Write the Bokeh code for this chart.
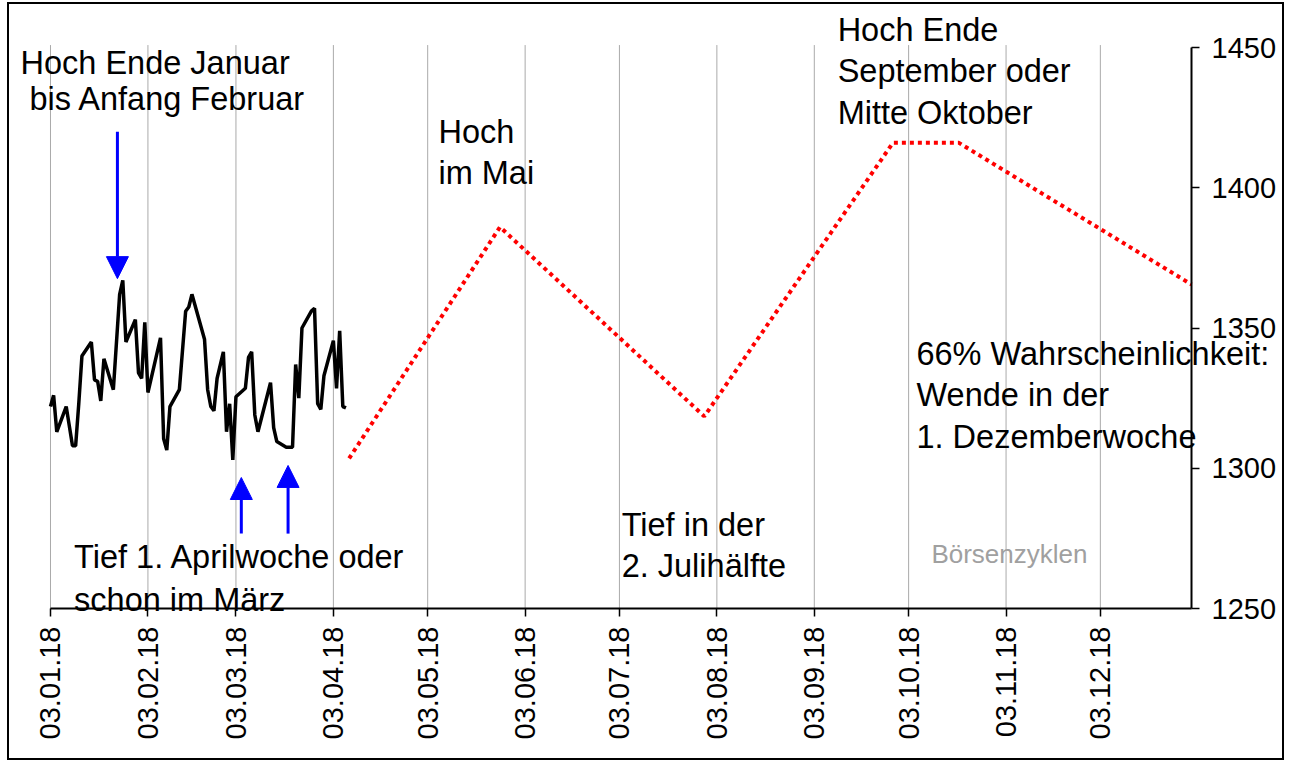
import math
import pandas as pd
from bokeh.plotting import figure
from bokeh.models import (Range1d, FixedTicker, Label, Arrow, NormalHead,
                          DatetimeTickFormatter)
from bokeh.embed import file_html
from bokeh.resources import INLINE

# ---------------- data ----------------
black_dates = [
    "2018-01-03", "2018-01-04", "2018-01-05", "2018-01-08", "2018-01-10", "2018-01-11",
    "2018-01-12", "2018-01-13", "2018-01-16", "2018-01-17", "2018-01-18", "2018-01-19",
    "2018-01-20", "2018-01-23", "2018-01-25", "2018-01-26", "2018-01-27", "2018-01-30",
    "2018-01-31", "2018-02-01", "2018-02-02", "2018-02-03", "2018-02-07", "2018-02-08",
    "2018-02-09", "2018-02-10", "2018-02-13", "2018-02-15", "2018-02-16", "2018-02-17",
    "2018-02-21", "2018-02-22", "2018-02-23", "2018-02-24", "2018-02-25", "2018-02-27",
    "2018-02-28", "2018-03-01", "2018-03-02", "2018-03-03", "2018-03-06", "2018-03-07",
    "2018-03-08", "2018-03-09", "2018-03-10", "2018-03-14", "2018-03-15", "2018-03-16",
    "2018-03-19", "2018-03-21", "2018-03-22", "2018-03-23", "2018-03-24", "2018-03-27",
    "2018-03-28", "2018-03-29", "2018-03-30", "2018-03-31", "2018-04-03", "2018-04-04",
    "2018-04-05", "2018-04-06", "2018-04-07",
]
black_values = [
    1322, 1326, 1313, 1322, 1308, 1308,
    1323, 1340, 1345, 1331.5, 1331, 1324,
    1339, 1328, 1362, 1367, 1345, 1353,
    1334, 1332, 1352, 1327, 1346.5, 1310.5,
    1306.5, 1322, 1328, 1356, 1357.5, 1362,
    1346, 1328, 1322, 1320.5, 1332, 1341.5,
    1313, 1323, 1303, 1325.5, 1328.5, 1339.5,
    1341.5, 1319, 1313, 1330.5, 1314.5, 1309.5,
    1307.5, 1307.5, 1337, 1325, 1350, 1356,
    1357, 1323, 1321, 1333, 1345.5, 1328.5,
    1349, 1322, 1321.5,
]

forecast_dates = ["2018-04-08", "2018-05-26", "2018-07-30", "2018-09-28", "2018-10-19", "2019-01-01"]
forecast_values = [1303.5, 1386, 1318.5, 1416, 1416, 1365.5]

tick_dates = ["2018-01-03", "2018-02-03", "2018-03-03", "2018-04-03", "2018-05-03", "2018-06-03",
              "2018-07-03", "2018-08-03", "2018-09-03", "2018-10-03", "2018-11-03", "2018-12-03"]
tick_labels = ["03.01.18", "03.02.18", "03.03.18", "03.04.18", "03.05.18", "03.06.18",
               "03.07.18", "03.08.18", "03.09.18", "03.10.18", "03.11.18", "03.12.18"]
y_ticks = [1250, 1300, 1350, 1400, 1450]

axis_x_start, axis_x_end = "2018-01-03", "2019-01-01"
axis_y_start, axis_y_end = 1250, 1450


def ms(d):
    return pd.Timestamp(d).value / 1e6


DAY = 86400000.0
FONT = "Liberation Sans"

# extra room around the axes (in data units) so that texts outside the axes are not clipped
x_lo = ms(axis_x_start) - 13.04 * DAY
x_hi = ms(axis_x_end) + 30.22 * DAY
y_lo = 1195.10
y_hi = 1465.33

p = figure(width=1277, height=758, output_backend="svg", toolbar_location=None,
           x_axis_type="datetime", y_axis_location="right",
           x_range=Range1d(x_lo, x_hi), y_range=Range1d(y_lo, y_hi),
           min_border=0, min_border_left=0, min_border_right=0,
           min_border_top=0, min_border_bottom=0,
           styles={"border": "2px solid #000000", "margin-left": "7px", "margin-top": "2px"})
p.outline_line_color = None
p.background_fill_color = "white"
p.border_fill_color = "white"
p.xgrid.visible = False
p.ygrid.visible = False

tick_ms = [ms(d) for d in tick_dates]

# x axis, fixed at the 1250 level
xa = p.xaxis[0]
xa.fixed_location = axis_y_start
xa.bounds = (ms(axis_x_start), ms(axis_x_end))
xa.ticker = FixedTicker(ticks=tick_ms)
xa.formatter = DatetimeTickFormatter(days="%d.%m.%y", months="%d.%m.%y", years="%d.%m.%y")
xa.major_label_overrides = {t: l for t, l in zip(tick_ms, tick_labels)}
xa.major_label_orientation = math.pi / 2
xa.major_label_text_font = FONT
xa.major_label_text_font_size = "29px"
xa.major_label_text_color = "black"
xa.major_label_standoff = 10
xa.axis_line_color = "black"
xa.axis_line_width = 2
xa.major_tick_line_color = "black"
xa.major_tick_line_width = 1.5
xa.major_tick_out = 8
xa.major_tick_in = 0
xa.minor_tick_line_color = None

# y axis on the right, fixed at the end of the date range
ya = p.yaxis[0]
ya.fixed_location = ms(axis_x_end)
ya.bounds = (axis_y_start, axis_y_end)
ya.ticker = FixedTicker(ticks=y_ticks)
ya.major_label_text_font = FONT
ya.major_label_text_font_size = "29px"
ya.major_label_text_color = "black"
ya.major_label_standoff = 12
ya.axis_line_color = "black"
ya.axis_line_width = 2
ya.major_tick_line_color = "black"
ya.major_tick_line_width = 1.5
ya.major_tick_out = 8
ya.major_tick_in = 0
ya.minor_tick_line_color = None

# vertical dotted grid lines at the month ticks
p.segment(x0=tick_ms, y0=[axis_y_start] * len(tick_ms), x1=tick_ms,
          y1=[axis_y_end + 0.7] * len(tick_ms),
          line_color="#555555", line_width=1, line_dash="1 1")

# series
p.line(x=[ms(d) for d in forecast_dates], y=forecast_values,
       line_color="#ff0000", line_width=4, line_dash="4 4")
p.line(x=[ms(d) for d in black_dates], y=black_values,
       line_color="black", line_width=3.5)

# annotations
annotations = [
    ("Hoch Ende Januar", "2017-12-24 11:00", 1444.3),
    ("bis Anfang Februar", "2017-12-27 08:00", 1431.8),
    ("Hoch", "2018-05-06 10:00", 1420.0),
    ("im Mai", "2018-05-06 10:00", 1405.1),
    ("Hoch Ende", "2018-09-10 10:00", 1456.1),
    ("September oder", "2018-09-10 10:00", 1441.5),
    ("Mitte Oktober", "2018-09-10 10:00", 1426.5),
    ("66% Wahrscheinlichkeit:", "2018-10-05 12:00", 1340.9),
    ("Wende in der", "2018-10-05 12:00", 1326.0),
    ("1. Dezemberwoche", "2018-10-05 12:00", 1311.3),
    ("Tief in der", "2018-07-03 17:00", 1279.8),
    ("2. Julihälfte", "2018-07-03 17:00", 1265.0),
    ("Tief 1. Aprilwoche oder", "2018-01-10 12:00", 1268.3),
    ("schon im März", "2018-01-10 12:00", 1253.2),
]
for text, d, v in annotations:
    p.add_layout(Label(x=ms(d), y=v, text=text, text_font=FONT, text_font_size="32.5px",
                       text_color="black", text_align="left", text_baseline="alphabetic"))

p.add_layout(Label(x=ms("2018-10-10 06:00"), y=1269.6, text="Börsenzyklen", text_font=FONT,
                   text_font_size="26px", text_color="#a0a0a0", text_align="left",
                   text_baseline="alphabetic"))

arrows = [
    ("2018-01-24 07:00", 1420.0, 1367.6),
    ("2018-03-04 17:00", 1276.7, 1296.7),
    ("2018-03-19 14:00", 1276.7, 1301.0),
]
for d, v0, v1 in arrows:
    p.add_layout(Arrow(x_start=ms(d), y_start=v0, x_end=ms(d), y_end=v1,
                       line_color="#0000ff", line_width=3,
                       end=NormalHead(size=22, fill_color="#0000ff", line_color="#0000ff",
                                      line_width=1)))

open("out.html", "w").write(file_html(p, INLINE))
